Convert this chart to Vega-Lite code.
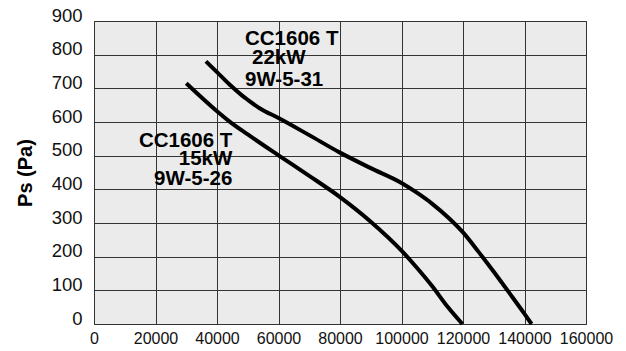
{
  "$schema": "https://vega.github.io/schema/vega-lite/v6.json",
  "autosize": {"type": "none"},
  "width": 492,
  "height": 303,
  "padding": {"left": 94, "top": 21, "right": 40, "bottom": 27},
  "background": "white",
  "config": {
    "view": {"fill": "#ebebeb", "stroke": "#333333", "strokeWidth": 1},
    "axis": {
      "grid": true,
      "gridColor": "#333333",
      "gridWidth": 1,
      "gridOpacity": 1,
      "domain": false,
      "ticks": false,
      "labelColor": "#111111",
      "titleColor": "#000000"
    }
  },
  "datasets": {
    "curves": [
      {"series": "15kW", "flow": 30000, "ps": 715},
      {"series": "15kW", "flow": 40000, "ps": 632},
      {"series": "15kW", "flow": 44000, "ps": 602},
      {"series": "15kW", "flow": 50000, "ps": 563},
      {"series": "15kW", "flow": 60000, "ps": 501},
      {"series": "15kW", "flow": 70000, "ps": 440},
      {"series": "15kW", "flow": 80000, "ps": 377},
      {"series": "15kW", "flow": 90000, "ps": 304},
      {"series": "15kW", "flow": 100000, "ps": 218},
      {"series": "15kW", "flow": 105000, "ps": 167},
      {"series": "15kW", "flow": 110000, "ps": 112},
      {"series": "15kW", "flow": 115000, "ps": 51},
      {"series": "15kW", "flow": 119800, "ps": 0},
      {"series": "22kW", "flow": 36400, "ps": 780},
      {"series": "22kW", "flow": 40000, "ps": 748},
      {"series": "22kW", "flow": 44000, "ps": 712},
      {"series": "22kW", "flow": 48000, "ps": 680},
      {"series": "22kW", "flow": 50000, "ps": 666},
      {"series": "22kW", "flow": 54000, "ps": 640},
      {"series": "22kW", "flow": 60000, "ps": 612},
      {"series": "22kW", "flow": 70000, "ps": 561},
      {"series": "22kW", "flow": 80000, "ps": 509},
      {"series": "22kW", "flow": 90000, "ps": 463},
      {"series": "22kW", "flow": 100000, "ps": 419},
      {"series": "22kW", "flow": 105000, "ps": 390},
      {"series": "22kW", "flow": 110000, "ps": 357},
      {"series": "22kW", "flow": 115000, "ps": 318},
      {"series": "22kW", "flow": 120000, "ps": 272},
      {"series": "22kW", "flow": 125000, "ps": 215},
      {"series": "22kW", "flow": 130000, "ps": 155},
      {"series": "22kW", "flow": 135000, "ps": 93},
      {"series": "22kW", "flow": 140000, "ps": 30},
      {"series": "22kW", "flow": 142300, "ps": 0}
    ],
    "labels": [
      {"label": "CC1606 T", "flow": 49100, "ps": 830, "anchor": "left"},
      {"label": "22kW", "flow": 51380, "ps": 773, "anchor": "left"},
      {"label": "9W-5-31", "flow": 49100, "ps": 706, "anchor": "left"},
      {"label": "CC1606 T", "flow": 44980, "ps": 527, "anchor": "right"},
      {"label": "15kW", "flow": 44980, "ps": 471, "anchor": "right"},
      {"label": "9W-5-26", "flow": 44980, "ps": 413, "anchor": "right"}
    ]
  },
  "encoding": {
    "x": {
      "field": "flow", "type": "quantitative",
      "scale": {"domain": [0, 160000], "nice": false},
      "axis": {
        "title": null,
        "values": [0, 20000, 40000, 60000, 80000, 100000, 120000, 140000, 160000],
        "format": "d",
        "labelFont": "Liberation Sans",
        "labelFontSize": 16,
        "labelPadding": 6,
        "labelFlush": false,
        "labelOverlap": false
      }
    },
    "y": {
      "field": "ps", "type": "quantitative",
      "scale": {"domain": [0, 900], "nice": false},
      "axis": {
        "title": "Ps (Pa)",
        "values": [0, 100, 200, 300, 400, 500, 600, 700, 800, 900],
        "format": "d",
        "labelFont": "Liberation Sans",
        "labelFontSize": 18.5,
        "labelPadding": 12,
        "labelBaseline": "alphabetic",
        "labelFlush": false,
        "labelOverlap": false,
        "titleFont": "Liberation Sans",
        "titleFontSize": 20,
        "titleFontWeight": "bold",
        "titlePadding": 16
      }
    }
  },
  "layer": [
    {
      "data": {"name": "curves"},
      "mark": {"type": "line", "color": "#000000", "strokeWidth": 4, "interpolate": "monotone", "strokeCap": "butt"},
      "encoding": {
        "detail": {"field": "series"}
      }
    },
    {
      "data": {"name": "labels"},
      "transform": [{"filter": "datum.anchor === 'left'"}],
      "mark": {"type": "text", "align": "left", "baseline": "alphabetic", "font": "Liberation Sans", "fontSize": 20.5, "fontWeight": "bold", "color": "#000000"},
      "encoding": {
        "text": {"field": "label"}
      }
    },
    {
      "data": {"name": "labels"},
      "transform": [{"filter": "datum.anchor === 'right'"}],
      "mark": {"type": "text", "align": "right", "baseline": "alphabetic", "font": "Liberation Sans", "fontSize": 20.5, "fontWeight": "bold", "color": "#000000"},
      "encoding": {
        "text": {"field": "label"}
      }
    }
  ]
}
